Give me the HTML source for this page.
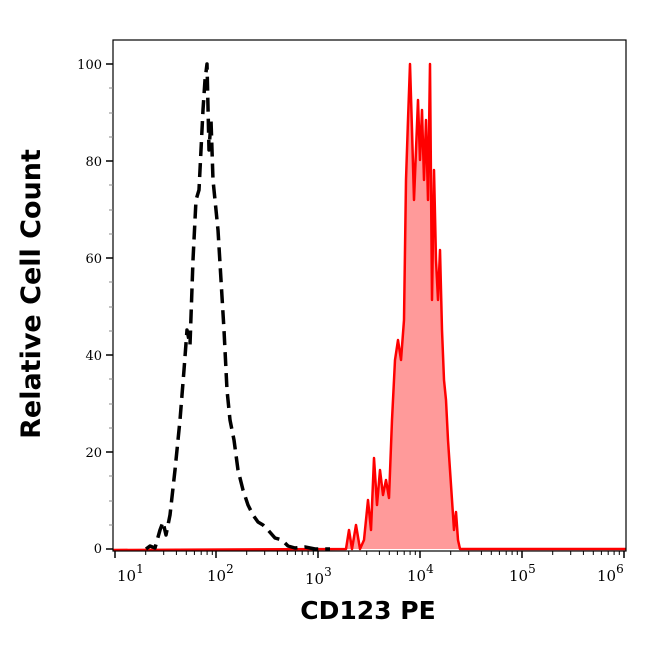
<!DOCTYPE html>
<html><head><style>body{margin:0;background:#fff}</style></head><body>
<svg width="646" height="641" xmlns="http://www.w3.org/2000/svg" font-family="DejaVu Serif, Liberation Serif, serif">
<rect x="0" y="0" width="646" height="641" fill="#fff"/>
<polygon fill="#ff9a9a" points="346,549 349,530 352,549 356,525 360,549 364,540 368,500 371,530 374,458 377,505 380,470 383,495 386,480 389,498 392,420 395,360 398,340 401,360 404,320 406,180 408,120 410,64 412,130 414,200 416,150 418,100 420,160 422,110 424,180 426,120 428,200 430,64 432,300 434,170 436,260 438,300 440,250 442,330 444,380 446,400 448,440 450,470 452,500 454,530 456,512 458,540 460,549"/>
<polyline fill="none" stroke="#ff0000" stroke-width="2.5" stroke-linejoin="round" points="113,550 346,549 349,530 352,549 356,525 360,549 364,540 368,500 371,530 374,458 377,505 380,470 383,495 386,480 389,498 392,420 395,360 398,340 401,360 404,320 406,180 408,120 410,64 412,130 414,200 416,150 418,100 420,160 422,110 424,180 426,120 428,200 430,64 432,300 434,170 436,260 438,300 440,250 442,330 444,380 446,400 448,440 450,470 452,500 454,530 456,512 458,540 460,549 626,549"/>
<polyline fill="none" stroke="#000" stroke-width="3.5" stroke-dasharray="14,7" stroke-linejoin="round" points="146,549 150,546 155,548 160,530 163,522 166,535 170,515 175,470 180,420 184,370 187,330 190,345 193,260 196,200 199,190 201,150 203,110 205,80 207,64 209,150 211,120 213,180 215,200 218,230 221,280 224,330 227,390 230,420 234,440 238,470 243,490 248,505 253,515 258,522 263,525 268,530 275,538 282,540 288,546 295,548 305,547 315,549 330,549"/>
<rect x="113" y="40" width="513" height="511" fill="none" stroke="#000" stroke-width="1.2"/>
<g stroke="#000" stroke-width="1.5">
<line x1="106" y1="64" x2="113" y2="64"/><line x1="106" y1="161" x2="113" y2="161"/><line x1="106" y1="258" x2="113" y2="258"/><line x1="106" y1="355" x2="113" y2="355"/><line x1="106" y1="452" x2="113" y2="452"/><line x1="106" y1="549" x2="113" y2="549"/>
</g>
<g stroke="#888" stroke-width="1">
<line x1="109" y1="88" x2="113" y2="88"/><line x1="109" y1="113" x2="113" y2="113"/><line x1="109" y1="137" x2="113" y2="137"/>
<line x1="109" y1="185" x2="113" y2="185"/><line x1="109" y1="210" x2="113" y2="210"/><line x1="109" y1="234" x2="113" y2="234"/>
<line x1="109" y1="282" x2="113" y2="282"/><line x1="109" y1="307" x2="113" y2="307"/><line x1="109" y1="331" x2="113" y2="331"/>
<line x1="109" y1="379" x2="113" y2="379"/><line x1="109" y1="404" x2="113" y2="404"/><line x1="109" y1="428" x2="113" y2="428"/>
<line x1="109" y1="476" x2="113" y2="476"/><line x1="109" y1="501" x2="113" y2="501"/><line x1="109" y1="525" x2="113" y2="525"/>
</g>
<g font-size="13" text-anchor="end">
<text x="102" y="69">100</text><text x="102" y="166">80</text><text x="102" y="263">60</text><text x="102" y="360">40</text><text x="102" y="457">20</text><text x="102" y="553">0</text>
</g>
<g stroke="#000" stroke-width="1.5">
<line x1="115" y1="551" x2="115" y2="558"/><line x1="216" y1="551" x2="216" y2="558"/><line x1="318" y1="551" x2="318" y2="558"/><line x1="420" y1="551" x2="420" y2="558"/><line x1="522" y1="551" x2="522" y2="558"/><line x1="624" y1="551" x2="624" y2="558"/>
</g>
<g stroke="#000" stroke-width="1" id="mt">
<line x1="145.7" y1="551" x2="145.7" y2="555"/><line x1="163.7" y1="551" x2="163.7" y2="555"/><line x1="176.4" y1="551" x2="176.4" y2="555"/><line x1="186.3" y1="551" x2="186.3" y2="555"/><line x1="194.4" y1="551" x2="194.4" y2="555"/><line x1="201.2" y1="551" x2="201.2" y2="555"/><line x1="207.1" y1="551" x2="207.1" y2="555"/><line x1="212.3" y1="551" x2="212.3" y2="555"/>
</g>
<use href="#mt" x="101"/><use href="#mt" x="203"/><use href="#mt" x="305"/><use href="#mt" x="407"/>
<g font-size="15">
<text x="117" y="581">10<tspan font-size="12" dy="-8">1</tspan></text>
<text x="207" y="581">10<tspan font-size="12" dy="-8">2</tspan></text>
<text x="305" y="584">10<tspan font-size="12" dy="-8">3</tspan></text>
<text x="407" y="581">10<tspan font-size="12" dy="-8">4</tspan></text>
<text x="509" y="581">10<tspan font-size="12" dy="-8">5</tspan></text>
<text x="597" y="581">10<tspan font-size="12" dy="-8">6</tspan></text>
</g>
<text x="368" y="619" font-family="DejaVu Sans, sans-serif" font-weight="bold" font-size="25" text-anchor="middle">CD123 PE</text>
<text transform="translate(40,294) rotate(-90)" font-family="DejaVu Sans, sans-serif" font-weight="bold" font-size="27" text-anchor="middle">Relative Cell Count</text>
</svg>
</body></html>
